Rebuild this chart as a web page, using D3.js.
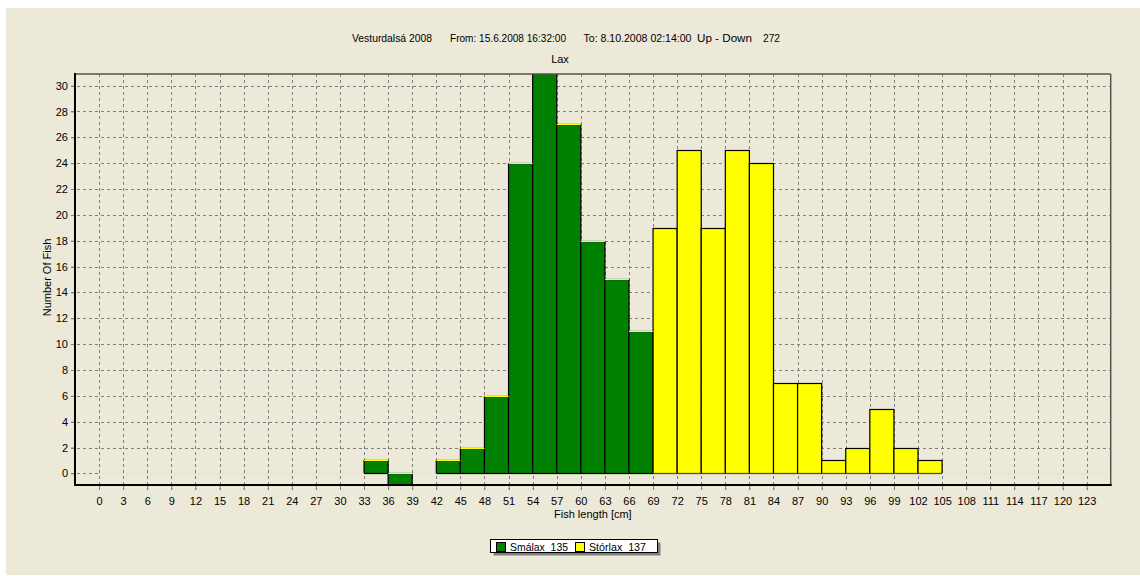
<!DOCTYPE html>
<html>
<head>
<meta charset="utf-8">
<script src="https://cdn.jsdelivr.net/npm/d3@7"></script>
<style>
html,body{margin:0;padding:0;background:#ffffff;}
svg{display:block;font-family:"Liberation Sans",Arial,sans-serif;}
</style>
</head>
<body>
<svg id="chart" width="1140" height="576"></svg>
<script>
// ---- data ----
const binStarts = [0,3,6,9,12,15,18,21,24,27,30,33,36,39,42,45,48,51,54,57,60,63,66,69,72,75,78,81,84,87,90,93,96,99,102,105,108,111,114,117,120,123];
const smalax  = [0,0,0,0,0,0,0,0,0,0,0,1,-1,0,1,2,6,24,31,27,18,15,11,0,0,0,0,0,0,0,0,0,0,0,0,0,0,0,0,0,0,0];
const storlax = [0,0,0,0,0,0,0,0,0,0,0,0,0,0,0,0,0,0,0,0,0,0,0,19,25,19,25,24,7,7,1,2,5,2,1,0,0,0,0,0,0,0];
const yTicks = [0,2,4,6,8,10,12,14,16,18,20,22,24,26,28,30];
const xTicks = binStarts;
const binWidth = 3;
const seriesNames = ["Smálax","Stórlax"];
const seriesTotals = [135,137];
const seriesColors = ["#008000","#ffff00"];
const titleParts = ["Vesturdalsá 2008","From: 15.6.2008 16:32:00","To: 8.10.2008 02:14:00","Up - Down","272"];
const subTitle = "Lax";
const xLabel = "Fish length [cm]";
const yLabel = "Number Of Fish";

// ---- layout ----
const svg = d3.select("#chart");
const L = 75, R = 1110.7, T = 74, B = 485;
const x = d3.scaleLinear().domain([-3,126]).range([L,R]);
const y = d3.scaleLinear().domain([-0.9,30.9]).range([B,T]);
const FS = "11px";
const py = v => Math.round(y(v)) + 0.5;

svg.append("rect").attr("x",6).attr("y",8).attr("width",1134).attr("height",567).attr("fill","#ece9d8");

// title
const titleX = [352,450,583.5,697,763];
const titleW = [80,116,108,55,17];
svg.selectAll("text.title").data(titleParts).enter().append("text")
  .attr("class","title").attr("x",(d,i)=>titleX[i]).attr("y",42)
  .attr("font-size",FS).attr("fill","#000")
  .attr("textLength",(d,i)=>titleW[i]).attr("lengthAdjust","spacingAndGlyphs").text(d=>d);
svg.append("text").attr("x",560).attr("y",63).attr("text-anchor","middle")
  .attr("font-size",FS).text(subTitle);

// clip
svg.append("clipPath").attr("id","plotclip").append("rect")
  .attr("x",L).attr("y",T).attr("width",R-L).attr("height",B-T);

// grid
const grid = svg.append("g").attr("stroke","#808080").attr("stroke-width",1).attr("stroke-dasharray","3,3");
grid.selectAll("line.h").data(yTicks).enter().append("line")
  .attr("x1",71).attr("x2",R).attr("y1",d=>py(d)).attr("y2",d=>py(d));
grid.selectAll("line.v").data(xTicks).enter().append("line")
  .attr("y1",T).attr("y2",B+5).attr("x1",d=>Math.round(x(d))+0.5).attr("x2",d=>Math.round(x(d))+0.5);

// bars
const bars = svg.append("g").attr("clip-path","url(#plotclip)");
const rows = binStarts.map((b,i)=>({b, g:smalax[i], s:storlax[i]}));
// green rects
bars.selectAll("rect.g").data(rows.filter(r=>r.g!==0)).enter().append("rect")
  .attr("x",r=>x(r.b)).attr("width",r=>x(r.b+binWidth)-x(r.b))
  .attr("y",r=>py(Math.max(r.g,0))).attr("height",r=>Math.abs(py(r.g)-py(0)))
  .attr("fill",seriesColors[0]).attr("stroke","#000").attr("stroke-width",1.2);
// yellow rects stacked on positive green
bars.selectAll("rect.s").data(rows.filter(r=>r.s!==0)).enter().append("rect")
  .attr("x",r=>x(r.b)).attr("width",r=>x(r.b+binWidth)-x(r.b))
  .attr("y",r=>py(Math.max(r.g,0)+r.s)).attr("height",r=>py(Math.max(r.g,0))-py(Math.max(r.g,0)+r.s))
  .attr("fill",seriesColors[1]).attr("stroke","#000").attr("stroke-width",1.2);
// zero-height lines
bars.selectAll("line.g0").data(rows.filter(r=>r.g===0)).enter().append("line")
  .attr("x1",r=>x(r.b)).attr("x2",r=>x(r.b+binWidth))
  .attr("y1",py(0)).attr("y2",py(0))
  .attr("stroke",seriesColors[0]).attr("stroke-width",1);
bars.selectAll("line.s0").data(rows.filter(r=>r.s===0)).enter().append("line")
  .attr("x1",r=>x(r.b)).attr("x2",r=>x(r.b+binWidth))
  .attr("y1",r=>py(Math.max(r.g,0))).attr("y2",r=>py(Math.max(r.g,0)))
  .attr("stroke",seriesColors[1]).attr("stroke-width",1);

// axes
const yAxis = d3.axisLeft(y).tickValues(yTicks).tickSize(4).tickPadding(3);
const gy = svg.append("g").attr("transform",`translate(${L},0)`).call(yAxis);
const xAxis = d3.axisBottom(x).tickValues(xTicks).tickSize(5).tickPadding(7);
const gx = svg.append("g").attr("transform",`translate(0,${B})`).call(xAxis);
[gy,gx].forEach(g=>{
  g.select(".domain").remove();
  g.selectAll("text").attr("font-size",FS).attr("font-family","Liberation Sans, Arial, sans-serif").attr("fill","#000");
  g.selectAll(".tick line").attr("stroke","#808080");
});

// frame
svg.append("line").attr("x1",L).attr("x2",R).attr("y1",T).attr("y2",T).attr("stroke","#555").attr("stroke-width",1.5);
svg.append("line").attr("x1",R).attr("x2",R).attr("y1",T).attr("y2",B).attr("stroke","#555").attr("stroke-width",1.5);
svg.append("line").attr("x1",L).attr("x2",L).attr("y1",T-1).attr("y2",B+1).attr("stroke","#000").attr("stroke-width",2);
svg.append("line").attr("x1",L-1).attr("x2",R+1).attr("y1",B).attr("y2",B).attr("stroke","#000").attr("stroke-width",2);

// axis titles
svg.append("text").attr("x",(L+R)/2).attr("y",518).attr("text-anchor","middle").attr("font-size",FS).text(xLabel);
svg.append("text").attr("transform",`translate(51,${(T+B)/2-2}) rotate(-90)`).attr("text-anchor","middle").attr("font-size",FS).text(yLabel);

// legend
const lg = svg.append("g");
lg.append("rect").attr("x",493.5).attr("y",542.5).attr("width",167).attr("height",13).attr("fill","#808080");
lg.append("rect").attr("x",490.5).attr("y",539.5).attr("width",167).attr("height",13).attr("fill","#fff").attr("stroke","#000");
const swX = [496.5,575.5], txX = [510,589], txW = [58,57];
seriesNames.forEach((n,i)=>{
  lg.append("rect").attr("x",swX[i]).attr("y",542.5).attr("width",9).attr("height",9).attr("fill",seriesColors[i]).attr("stroke","#000");
  lg.append("text").attr("x",txX[i]).attr("y",550.5).attr("font-size",FS).attr("xml:space","preserve")
    .attr("textLength",txW[i]).attr("lengthAdjust","spacingAndGlyphs").text(n+"  "+seriesTotals[i]);
});
</script>
</body>
</html>
